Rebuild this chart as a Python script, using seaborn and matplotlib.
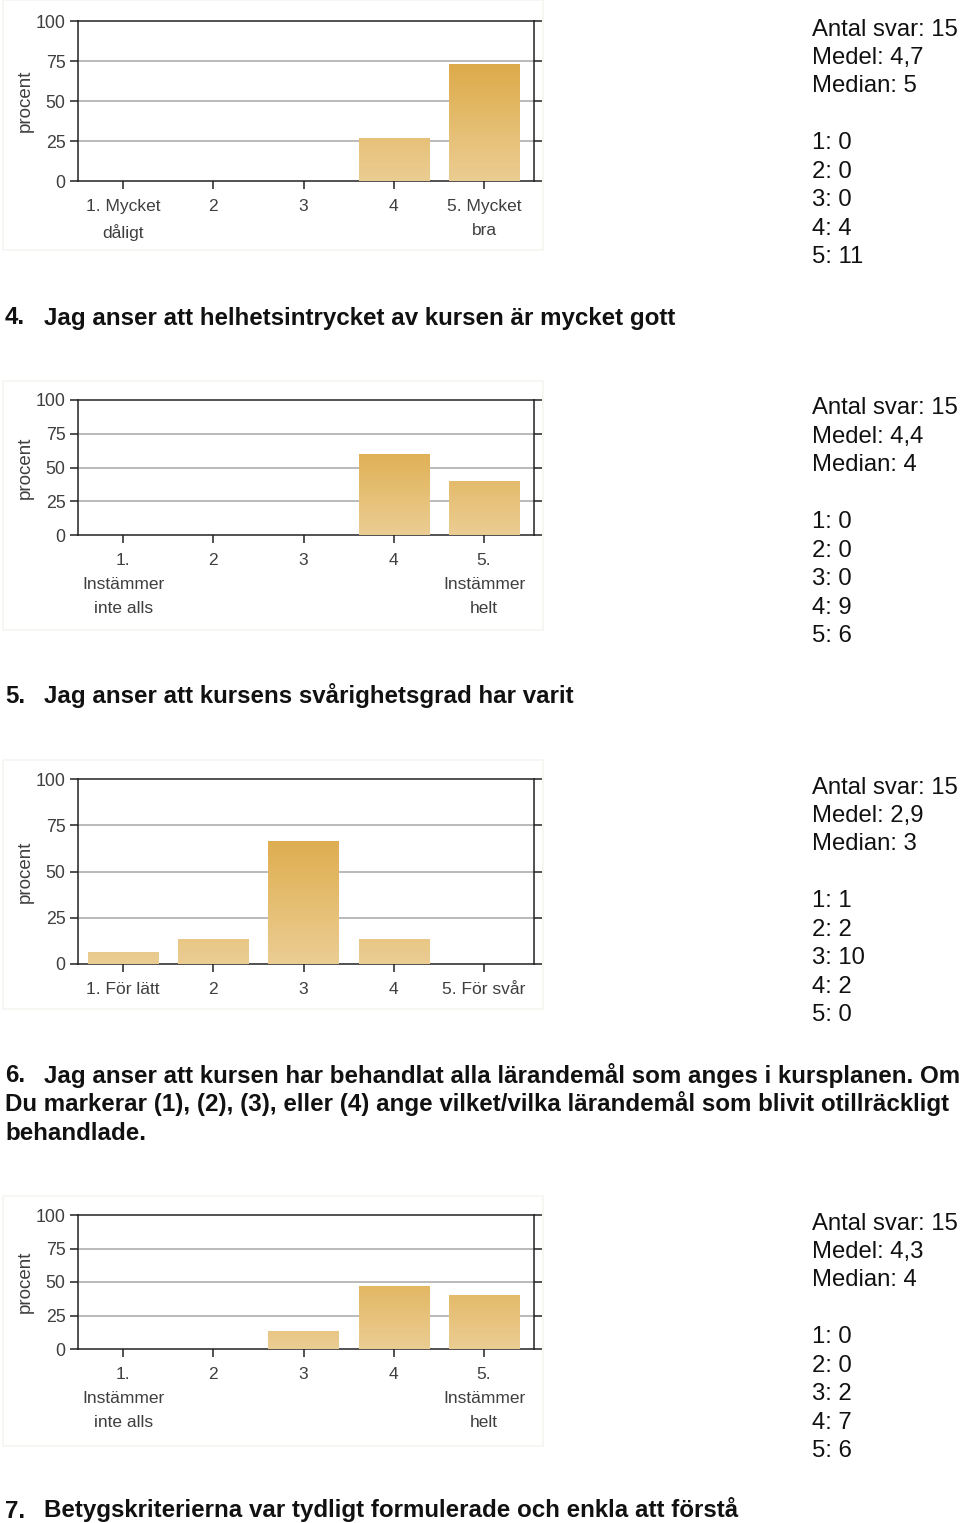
import numpy as np
import matplotlib
matplotlib.use("Agg")
import matplotlib.pyplot as plt
import seaborn as sns
from matplotlib.colors import LinearSegmentedColormap

sns.set_theme(style="white")
plt.rcParams['font.family'] = ['Liberation Sans', 'DejaVu Sans']

# ---------------- data ----------------
labels_q3 = ["1. Mycket\ndåligt", "2", "3", "4", "5. Mycket\nbra"]
counts_q3 = [0, 0, 0, 4, 11]
labels_q4 = ["1.\nInstämmer\ninte alls", "2", "3", "4", "5.\nInstämmer\nhelt"]
counts_q4 = [0, 0, 0, 9, 6]
labels_q5 = ["1. För lätt", "2", "3", "4", "5. För svår"]
counts_q5 = [1, 2, 10, 2, 0]
labels_q6 = ["1.\nInstämmer\ninte alls", "2", "3", "4", "5.\nInstämmer\nhelt"]
counts_q6 = [0, 0, 2, 7, 6]

n_answers = [15, 15, 15, 15]
means = ["4,7", "4,4", "2,9", "4,3"]
medians = ["5", "4", "3", "4"]

heading_nums = ["4.", "5.", "6.", "7."]
heading_texts = [
    "Jag anser att helhetsintrycket av kursen är mycket gott",
    "Jag anser att kursens svårighetsgrad har varit",
    "Jag anser att kursen har behandlat alla lärandemål som anges i kursplanen. Om",
    "Betygskriterierna var tydligt formulerade och enkla att förstå",
]
heading_extra = ["", "", "Du markerar (1), (2), (3), eller (4) ange vilket/vilka lärandemål som blivit otillräckligt\nbehandlade.", ""]

yticks = [0, 25, 50, 75, 100]
ylabel = "procent"

# ---------------- layout (pixels) ----------------
W, H = 960, 1523
fig = plt.figure(figsize=(W / 100, H / 100), dpi=100)
fig.patch.set_facecolor("white")

panels = [
    (labels_q3, counts_q3, 21, 181),
    (labels_q4, counts_q4, 400, 535),
    (labels_q5, counts_q5, 779, 964),
    (labels_q6, counts_q6, 1215, 1349),
]
heading_y = [316, 695, 1074, 1509]
frame_y = [(0, 250), (381, 630), (760, 1009), (1196, 1446)]

cmap = LinearSegmentedColormap.from_list("gold", ["#EBCD93", "#E2B660", "#D69C30"])
grad = np.linspace(0, 1, 256).reshape(-1, 1)

AX_L, AX_R = 78, 534
txt_color = "#3f3f3f"
BASE = 8.5  # centre -> baseline offset in px

for i, (labs, cnts, top, bot) in enumerate(panels):
    # faint panel frame
    fy0, fy1 = frame_y[i]
    fig.patches.append(plt.Rectangle((3 / W, 1 - fy1 / H), 540 / W, (fy1 - fy0) / H,
                                     transform=fig.transFigure, facecolor="none",
                                     edgecolor="#f2f6f0", linewidth=1.2, zorder=0))
    ax = fig.add_axes([AX_L / W, 1 - bot / H, (AX_R - AX_L) / W, (bot - top) / H])
    total = sum(cnts)
    pct = [c / total * 100 for c in cnts]
    sns.barplot(x=labs, y=pct, ax=ax, width=0.78, color="#E2B660", saturation=1,
                order=labs, zorder=3)
    for p in ax.patches:
        x0 = p.get_x()
        x1 = x0 + p.get_width()
        p.set_facecolor("none")
        p.set_edgecolor("none")
        im = ax.imshow(grad, extent=[x0, x1, 0, 100], origin="lower", aspect="auto",
                       cmap=cmap, vmin=0, vmax=1, zorder=3, interpolation="bilinear")
        im.set_clip_path(p)
    ax.set_xlim(-0.5, 4.553)
    ax.set_ylim(0, 100)
    ax.set_yticks(yticks)
    ax.set_yticklabels([str(t) for t in yticks])
    for yv in [25, 50, 75]:
        ax.axhline(yv, color="#b4b4b4", linewidth=1.3, zorder=1)
    for s in ax.spines.values():
        s.set_visible(True)
        s.set_color("#222222")
        s.set_linewidth(1.1)
    ax.tick_params(axis="x", direction="out", length=6, width=1.1, color="#222222",
                   labelsize=12.5, labelcolor=txt_color, pad=7, bottom=True)
    ax.tick_params(axis="y", direction="out", length=6, width=1.1, color="#222222",
                   labelsize=12.8, labelcolor=txt_color, pad=3, left=True,
                   right=True)
    for t in ax.yaxis.get_major_ticks():
        t.tick2line.set_color("#c8c8c8")
    for lab in ax.get_xticklabels():
        lab.set_linespacing(1.75)
    ax.set_xlabel("")
    ax.set_ylabel(ylabel, fontsize=13.5, color=txt_color, labelpad=1)
    ax.set_facecolor("white")

    # stats text
    lines = [f"Antal svar: {n_answers[i]}", f"Medel: {means[i]}", f"Median: {medians[i]}", ""]
    lines += [f"{k + 1}: {c}" for k, c in enumerate(cnts)]
    y0 = top + 6
    for k, ln in enumerate(lines):
        if ln:
            fig.text(812 / W, 1 - (y0 + k * 28.45 + BASE) / H, ln, fontsize=17.2,
                     color="#111111", va="baseline", ha="left")

    # heading
    hy = heading_y[i] + BASE
    fig.text(5 / W, 1 - hy / H, heading_nums[i], fontsize=17.4, fontweight="bold",
             color="#111111", va="baseline", ha="left")
    fig.text(44 / W, 1 - hy / H, heading_texts[i], fontsize=17.4, fontweight="bold",
             color="#111111", va="baseline", ha="left")
    if heading_extra[i]:
        for k, ln in enumerate(heading_extra[i].split("\n")):
            fig.text(5 / W, 1 - (hy + (k + 1) * 28.5) / H, ln, fontsize=17.4,
                     fontweight="bold", color="#111111", va="baseline", ha="left")

fig.savefig("out.png", dpi=100, facecolor="white")
